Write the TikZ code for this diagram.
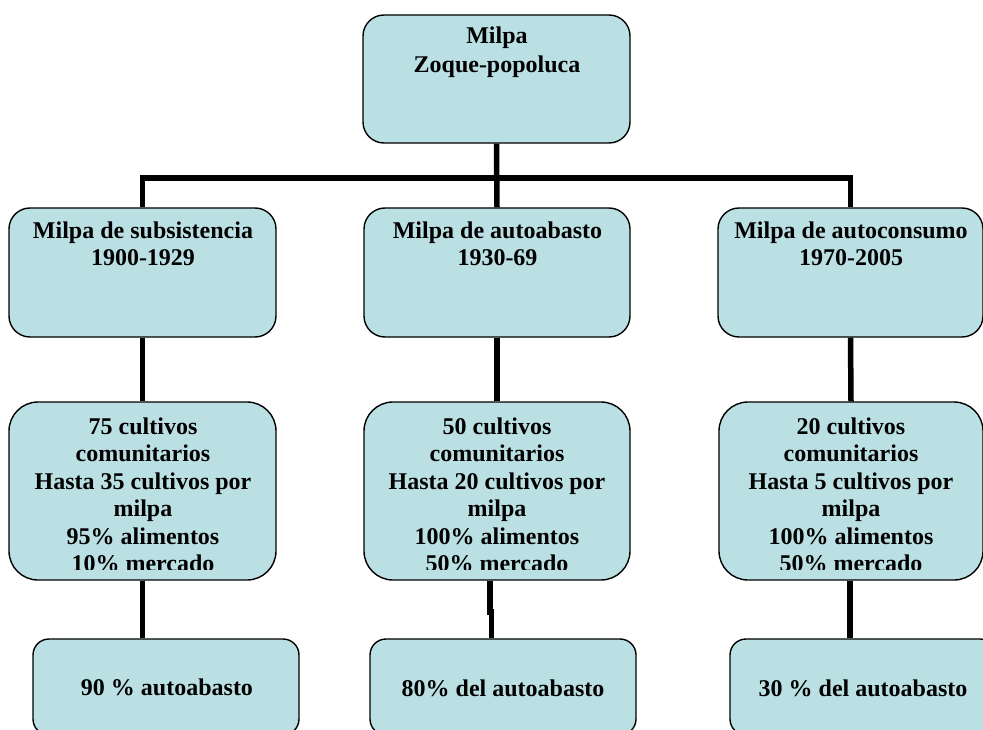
\documentclass[tikz,border=0pt]{standalone}
\usepackage{fontspec}
\setmainfont{Liberation Serif}
\definecolor{boxfill}{HTML}{BBE0E3}
\tikzset{
  box/.style={draw=black, line width=1.4pt, fill=boxfill, inner sep=0pt},
  bigbox/.style={box, minimum width=267pt, minimum height=129pt, rounded corners=21pt},
  tallbox/.style={box, minimum width=266pt, minimum height=178pt, rounded corners=29pt},
  lowbox/.style={box, minimum width=266pt, minimum height=96pt, rounded corners=16pt},
  txt/.style={anchor=north, inner sep=0pt, align=center, text=black,
    font=\fontsize{24}{27.5}\selectfont\bfseries},
  conn/.style={line width=5.5pt, draw=black}
}
\begin{document}
\begin{tikzpicture}[x=1pt,y=-1pt]
\useasboundingbox (0,0) rectangle (983,730);
\clip (0,0) rectangle (983,730);

% boxes
\node[bigbox, minimum height=128pt] (top) at (496.5,79) {};
\node[bigbox] (l1) at (142.5,272.5) {};
\node[bigbox, minimum width=266pt] (m1) at (497,272.5) {};
\node[bigbox, minimum width=265pt] (r1) at (850.5,272.5) {};
\node[tallbox, minimum width=267pt] (l2) at (142.5,491) {};
\node[tallbox] (m2) at (497,491) {};
\node[tallbox, minimum width=264pt] (r2) at (851,491) {};
\node[lowbox] (l3) at (166,687) {};
\node[lowbox] (m3) at (503,687) {};
\node[lowbox] (r3) at (863,687) {};

% connectors
\coordinate (bar) at (0,178);
\coordinate (jog) at (0,612);
\draw[conn] (top.south) -- (m1.north);
\draw[conn] (l1.north) -- (l1.north |- bar) -- (r1.north |- bar) -- (r1.north);
\draw[conn] (l1.south) -- (l2.north);
\draw[conn] (m1.south) -- (m2.north);
\draw[conn] (r1.south) -- (r2.north);
\draw[conn] (l2.south) -- (l2.south |- l3.north);
\draw[conn] ([xshift=-7pt]m2.south) -- ([xshift=-7pt]m2.south |- jog)
  -- ([xshift=-5.3pt]m2.south |- jog) -- ([xshift=-5.3pt]m2.south |- m3.north);
\draw[conn] ([xshift=-1pt]r2.south) -- ([xshift=-1pt]r2.south |- r3.north);

% texts
\node[txt, font=\fontsize{24}{29}\selectfont\bfseries] (topT) at (497,23.5)
  {\rule{0pt}{20pt}Milpa\\Zoque-popoluca};
\node[txt] (l1T) at (143,218) {\rule{0pt}{20pt}Milpa de subsistencia\\1900-1929};
\node[txt] (m1T) at (497.5,218) {\rule{0pt}{20pt}Milpa de autoabasto\\1930-69};
\node[txt] (r1T) at (851,218) {\rule{0pt}{20pt}Milpa de autoconsumo\\1970-2005};

\begin{scope}
\clip (l2.north west) rectangle ([yshift=11pt]l2.south east);
\node[txt] (l2T) at (143,414) {\rule{0pt}{20pt}75 cultivos\\comunitarios\\Hasta 35 cultivos por\\milpa\\95\% alimentos\\10\% mercado};
\end{scope}
\begin{scope}
\clip (m2.north west) rectangle ([yshift=11pt]m2.south east);
\node[txt] (m2T) at (497,414) {\rule{0pt}{20pt}50 cultivos\\comunitarios\\Hasta 20 cultivos por\\milpa\\100\% alimentos\\50\% mercado};
\end{scope}
\begin{scope}
\clip (r2.north west) rectangle ([yshift=11pt]r2.south east);
\node[txt] (r2T) at (851,414) {\rule{0pt}{20pt}20 cultivos\\comunitarios\\Hasta 5 cultivos por\\milpa\\100\% alimentos\\50\% mercado};
\end{scope}

\node[txt] (l3T) at (167,675.5) {\rule{0pt}{20pt}90 \% autoabasto};
\node[txt] (m3T) at (503,676) {\rule{0pt}{20pt}80\% del autoabasto};
\node[txt] (r3T) at (863,676) {\rule{0pt}{20pt}30 \% del autoabasto};
\end{tikzpicture}
\end{document}
